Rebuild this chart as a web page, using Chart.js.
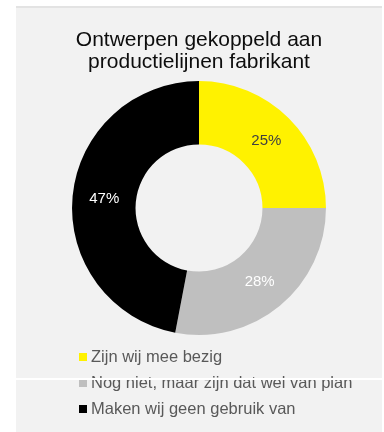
<!DOCTYPE html>
<html>
<head>
<meta charset="utf-8">
<script src="https://cdn.jsdelivr.net/npm/chart.js@4.4.1/dist/chart.umd.min.js"></script>
<style>
  html, body { margin: 0; padding: 0; background: #fff; }
  body { width: 384px; height: 432px; position: relative; overflow: hidden; font-family: "Liberation Sans", Arial, sans-serif; }
  #panel { position: absolute; left: 16px; top: 6px; width: 366px; height: 426px; background: #f2f2f2; border-top: 2px solid #e3e3e3; box-sizing: border-box; }
  #wrap { position: absolute; left: 0; top: 0; width: 366px; height: 424px; }
  #legend { position: absolute; left: 63px; top: 335px; margin: 0; padding: 0; list-style: none; }
  #legend li { height: 26px; line-height: 26px; font-size: 16.5px; color: #595959; white-space: nowrap; }
  #legend span { display: inline-block; width: 8px; height: 8px; margin-right: 4px; vertical-align: 1px; }
  #cut { position: absolute; left: 16px; top: 378px; width: 366px; height: 2px; background: #fff; }
</style>
</head>
<body>
<div id="panel">
  <div id="wrap"><canvas id="myChart"></canvas></div>
  <ul id="legend"></ul>
</div>
<div id="cut"></div>
<script>
const titleLines = ['Ontwerpen gekoppeld aan', 'productielijnen fabrikant'];
const categories = ['Zijn wij mee bezig', 'Nog niet, maar zijn dat wel van plan', 'Maken wij geen gebruik van'];
const shares = [25, 28, 47];
const sliceColors = ['#fff200', '#bfbfbf', '#000000'];
const labelColors = ['#404040', '#ffffff', '#ffffff'];

// percentage labels in the middle of each ring segment
const sliceLabels = {
  id: 'sliceLabels',
  afterDatasetsDraw(chart) {
    const ctx = chart.ctx;
    const meta = chart.getDatasetMeta(0);
    ctx.save();
    ctx.font = '15px "Liberation Sans", Arial, sans-serif';
    ctx.textAlign = 'center';
    ctx.textBaseline = 'middle';
    meta.data.forEach((arc, i) => {
      const p = arc.tooltipPosition();
      ctx.fillStyle = labelColors[i];
      ctx.fillText(shares[i] + '%', p.x, p.y);
    });
    ctx.restore();
  }
};

const ctx = document.getElementById('myChart');
const chart = new Chart(ctx, {
  type: 'doughnut',
  data: {
    labels: categories,
    datasets: [{
      data: shares,
      backgroundColor: sliceColors,
      borderWidth: 0
    }]
  },
  options: {
    responsive: true,
    maintainAspectRatio: false,
    animation: false,
    cutout: '50%',
    layout: { padding: { bottom: 97 } },
    plugins: {
      legend: { display: false },
      tooltip: { enabled: false },
      title: {
        display: true,
        text: titleLines,
        color: '#0d0d0d',
        font: { family: '"Liberation Sans", Arial, sans-serif', size: 21, weight: 'normal', lineHeight: 1.05 },
        padding: { top: 21, bottom: 8 }
      }
    }
  },
  plugins: [sliceLabels]
});

// legend list under the ring
const legendEl = document.getElementById('legend');
categories.forEach((name, i) => {
  const li = document.createElement('li');
  const box = document.createElement('span');
  box.style.background = sliceColors[i];
  li.appendChild(box);
  li.appendChild(document.createTextNode(name));
  legendEl.appendChild(li);
});
</script>
</body>
</html>
